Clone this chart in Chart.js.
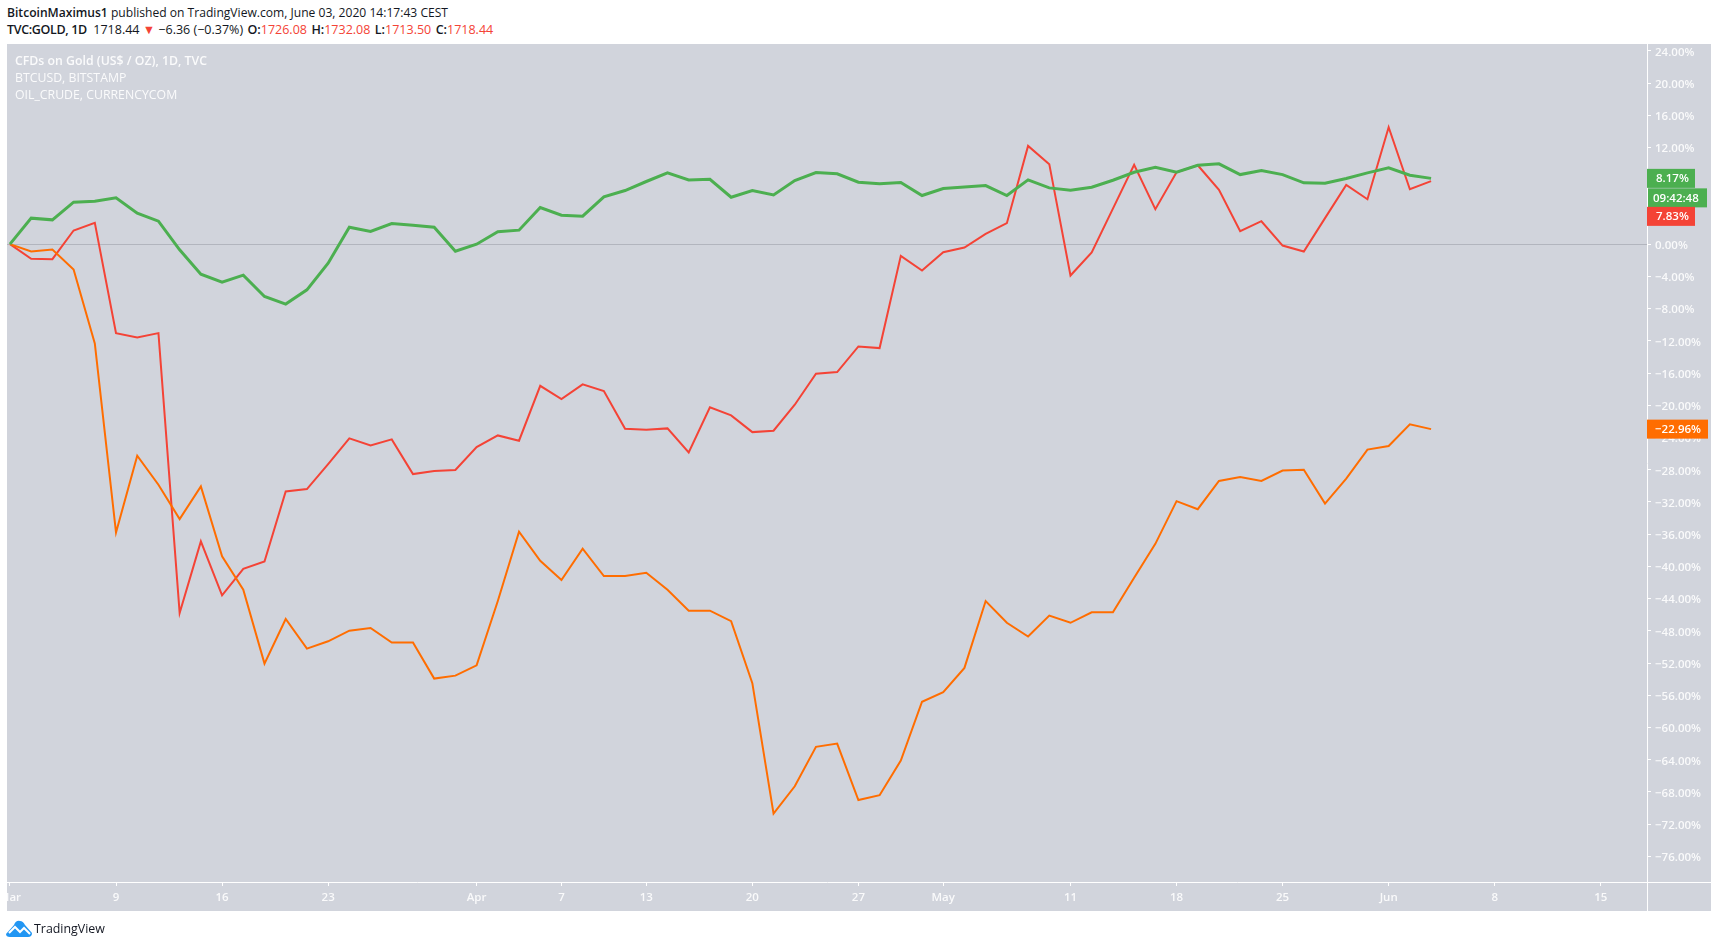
<!DOCTYPE html>
<html>
<head>
<meta charset="utf-8">
<title>TVC:GOLD, BTCUSD, OIL_CRUDE</title>
<script src="https://cdn.jsdelivr.net/npm/chart.js@4"></script>
<style>
    html, body { margin: 0; padding: 0; background: #fff; width: 1718px; height: 948px; overflow: hidden; }
    body { font-family: "Open Sans", sans-serif; color: #131722; position: relative; }
    #panel { position: absolute; left: 7px; top: 44px; width: 1704px; height: 867px; background: #d1d4dc; }
    #chart { position: absolute; left: 0; top: 0; }
    .head { position: absolute; left: 7px; line-height: 17px; white-space: nowrap; }
    .head b { font-weight: 600; }
    .head b.ohlc { margin-left: 1.2px; }
    .head .red { color: #f44336; }
    .legend { position: absolute; left: 15px; color: #fff; font-size: 12.3px; line-height: 16px; white-space: nowrap; opacity: .9; }
    #brand { position: absolute; left: 34px; top: 920px; font-size: 12.4px; line-height: 18px; color: #131722; }
    #logo { position: absolute; left: 6px; top: 920px; }
</style>
</head>
<body>
<div id="panel"></div>
<div class="head" style="top:4px;font-size:12.1px"><b>BitcoinMaximus1</b> published on TradingView.com, June 03, 2020 14:17:43 CEST</div>
<div class="head" style="top:21px;font-size:12.5px"><b style="letter-spacing:-.35px">TVC:GOLD, 1D</b>&nbsp; 1718.44 <span class="red">▼</span> −6.36 (−0.37%) <b class="ohlc">O:</b><span class="red">1726.08</span> <b class="ohlc">H:</b><span class="red">1732.08</span> <b class="ohlc">L:</b><span class="red">1713.50</span> <b class="ohlc">C:</b><span class="red">1718.44</span></div>
<canvas id="chart" width="1718" height="948"></canvas>
<div class="legend" style="top:53px;font-weight:600">CFDs on Gold (US$ / OZ), 1D, TVC</div>
<div class="legend" style="top:70px">BTCUSD, BITSTAMP</div>
<div class="legend" style="top:87px">OIL_CRUDE, CURRENCYCOM</div>
<svg id="logo" width="26" height="17" viewBox="0 0 26 17"><path fill="#2196f3" d="M0 14 L8 5 Q10 0 14 1 Q17 1 19 5 L26 13 Q26 17 22 17 L4 17 Q0 17 0 14 Z"/><path fill="none" stroke="#fff" stroke-width="2" d="M3 13 L9 7 L14 12 L18 8 L24 14"/></svg>
<div id="brand">TradingView</div>

<script>
    // % change since the first bar, one value per trading day from Mar 2 to Jun 3 2020
    const goldValues = [
        0, 3.23, 3.02, 5.21, 5.33, 5.75, 3.85, 2.85, -0.70, -3.72,
        -4.71, -3.85, -6.49, -7.44, -5.67, -2.36, 2.11, 1.57, 2.56, 2.36,
        2.11, -0.87, 0, 1.55, 1.74, 4.55, 3.60, 3.47, 5.87, 6.66,
        7.78, 8.85, 7.98, 8.06, 5.83, 6.66, 6.12, 7.90, 8.89, 8.73,
        7.69, 7.49, 7.65, 6.04, 6.91, 7.09, 7.28, 6.04, 7.98, 6.99,
        6.70, 7.07, 7.94, 8.93, 9.55, 8.93, 9.80, 9.97, 8.64, 9.14,
        8.64, 7.61, 7.57, 8.15, 8.85, 9.47, 8.56, 8.17
    ];
    const btcValues = [
        0, -1.82, -1.86, 1.70, 2.65, -11.04, -11.58, -11.04, -45.8, -36.9,
        -43.6, -40.3, -39.4, -30.7, -30.4, -27.3, -24.11, -24.98, -24.23, -28.54,
        -28.16, -28.04, -25.2, -23.74, -24.40, -17.58, -19.23, -17.41, -18.24, -22.91,
        -23.04, -22.87, -25.85, -20.26, -21.26, -23.33, -23.16, -19.93, -16.09, -15.88,
        -12.70, -12.90, -1.45, -3.27, -0.99, -0.41, 1.28, 2.61, 12.2, 9.93,
        -3.89, -1.03, 4.42, 9.84, 4.34, 8.93, 9.80, 6.74, 1.61, 2.85,
        -0.17, -0.91, 3.23, 7.36, 5.58, 14.52, 6.82, 7.83
    ];
    const oilValues = [
        0, -0.91, -0.66, -3.14, -12.32, -35.8, -26.26, -29.86, -34.12, -30.07,
        -38.75, -42.89, -52.07, -46.53, -50.21, -49.3, -47.98, -47.64, -49.46, -49.46,
        -53.93, -53.56, -52.28, -44.3, -35.7, -39.3, -41.7, -37.8, -41.2, -41.2,
        -40.8, -42.9, -45.5, -45.5, -46.8, -54.5, -70.7, -67.3, -62.4, -62.0,
        -69.0, -68.4, -64.1, -56.8, -55.6, -52.6, -44.3, -47.0, -48.7, -46.1,
        -47.0, -45.7, -45.7, -41.4, -37.2, -31.9, -32.9, -29.4, -28.9, -29.4,
        -28.1, -28.0, -32.2, -29.1, -25.5, -25.06, -22.37, -22.96
    ];

    const yTickValues = [24, 20, 16, 12, 8, 4, 0, -4, -8, -12, -16, -20, -24, -28, -32, -36, -40, -44, -48, -52, -56, -60, -64, -68, -72, -76];
    const xTickBars = [0, 5, 10, 15, 22, 26, 30, 35, 40, 44, 50, 55, 60, 65, 70, 75];
    const xTickLabels = ['Mar', '9', '16', '23', 'Apr', '7', '13', '20', '27', 'May', '11', '18', '25', 'Jun', '8', '15'];

    const GREEN = '#4caf50';
    const RED = '#f44336';
    const ORANGE = '#ff6d00';
    const TICK_COLOR = 'rgba(255,255,255,0.88)';
    const PANEL_RIGHT = 1711;
    const PANEL_BOTTOM = 911;

    const toPoints = values => values.map((y, i) => ({ x: i, y: y }));
    const percent = v => v.toFixed(2).replace('-', '\u2212') + '%';

    // Price tags on the right axis, the red one is pushed down like TradingView does
    const priceTags = {
        id: 'priceTags',
        afterDraw(chart) {
            const { ctx, chartArea, scales } = chart;
            const tag = (text, centerY, color, left, width, pad) => {
                ctx.fillStyle = color;
                ctx.fillRect(left, centerY - 9.5, width, 19);
                ctx.fillStyle = '#fff';
                ctx.font = '600 11.5px "Open Sans", sans-serif';
                ctx.textAlign = 'left';
                ctx.textBaseline = 'middle';
                ctx.fillText(text, left + pad, centerY + 0.5);
            };

            // axis lines run on to the edge of the panel
            ctx.strokeStyle = '#fff';
            ctx.lineWidth = 1;
            ctx.beginPath();
            ctx.moveTo(chartArea.right, chartArea.bottom + 0.5);
            ctx.lineTo(PANEL_RIGHT, chartArea.bottom + 0.5);
            ctx.moveTo(chartArea.right + 0.5, chartArea.bottom);
            ctx.lineTo(chartArea.right + 0.5, PANEL_BOTTOM);
            ctx.stroke();

            const goldY = scales.y.getPixelForValue(goldValues[goldValues.length - 1]);
            const oilY = scales.y.getPixelForValue(oilValues[oilValues.length - 1]);
            tag(percent(goldValues[goldValues.length - 1]), goldY, GREEN, chartArea.right, 48, 9);
            tag('09:42:48', goldY + 19.5, GREEN, chartArea.right + 1, 59, 5);
            tag(percent(btcValues[btcValues.length - 1]), goldY + 38, RED, chartArea.right, 48, 9);
            tag(percent(oilValues[oilValues.length - 1]), oilY, ORANGE, chartArea.right, 61, 8);
        }
    };

    new Chart(document.getElementById('chart'), {
        type: 'line',
        data: {
            datasets: [
                { label: 'CFDs on Gold (US$ / OZ), 1D, TVC', data: toPoints(goldValues), borderColor: GREEN, borderWidth: 3 },
                { label: 'OIL_CRUDE, CURRENCYCOM', data: toPoints(oilValues), borderColor: ORANGE, borderWidth: 2 },
                { label: 'BTCUSD, BITSTAMP', data: toPoints(btcValues), borderColor: RED, borderWidth: 2 }
            ]
        },
        options: {
            responsive: false,
            animation: false,
            devicePixelRatio: 1,
            layout: { padding: { left: 7, top: 44, right: 7, bottom: 37 } },
            elements: { point: { radius: 0 }, line: { tension: 0, borderJoinStyle: 'miter' } },
            plugins: { legend: { display: false }, tooltip: { enabled: false } },
            scales: {
                x: {
                    type: 'linear',
                    min: -0.14,
                    max: 77.18,
                    border: { color: '#fff' },
                    grid: { drawOnChartArea: false, tickColor: '#fff', tickLength: 4 },
                    afterBuildTicks(scale) { scale.ticks = xTickBars.map(v => ({ value: v })); },
                    afterFit(scale) { scale.height = 29; scale.paddingLeft = 0; scale.paddingRight = 0; },
                    ticks: {
                        autoSkip: false,
                        maxRotation: 0,
                        padding: 5,
                        color: TICK_COLOR,
                        font: { family: '"Open Sans", sans-serif', size: 11.5, weight: '600' },
                        callback: v => xTickLabels[xTickBars.indexOf(v)]
                    }
                },
                y: {
                    position: 'right',
                    min: -79.18,
                    max: 24.85,
                    border: { color: '#fff' },
                    grid: {
                        color: c => (c.tick && c.tick.value === 0 ? '#b2b5be' : 'rgba(0,0,0,0)'),
                        tickColor: '#fff',
                        tickLength: 4
                    },
                    afterBuildTicks(scale) { scale.ticks = yTickValues.map(v => ({ value: v })); },
                    afterFit(scale) { scale.width = 64; scale.paddingTop = 0; scale.paddingBottom = 0; },
                    ticks: {
                        autoSkip: false,
                        padding: 4,
                        labelOffset: 1.5,
                        color: TICK_COLOR,
                        font: { family: '"Open Sans", sans-serif', size: 11.5, weight: '600' },
                        callback: v => percent(v)
                    }
                }
            }
        },
        plugins: [priceTags]
    });
</script>
</body>
</html>
